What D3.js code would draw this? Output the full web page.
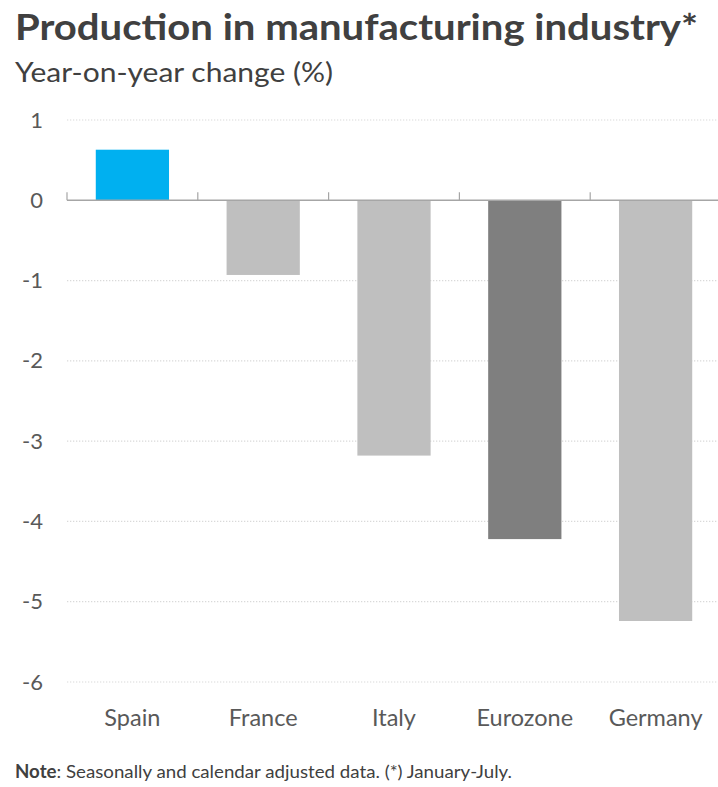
<!DOCTYPE html>
<html>
<head>
<meta charset="utf-8">
<script src="https://cdn.jsdelivr.net/npm/d3@7"></script>
<style>
  html, body { margin: 0; padding: 0; background: #ffffff; }
  svg { display: block; }
  text { font-family: Lato, "Open Sans", sans-serif; }
</style>
</head>
<body>
<svg id="chart" width="718" height="787"></svg>
<script>
// Year-on-year change (%) in manufacturing production, January-July
const categories = ["Spain", "France", "Italy", "Eurozone", "Germany"];
const values = [0.63, -0.93, -3.18, -4.22, -5.24];
const barColors = ["#00B0F0", "#BFBFBF", "#BFBFBF", "#7F7F7F", "#BFBFBF"];
const yTicks = [1, 0, -1, -2, -3, -4, -5, -6];

const svg = d3.select("#chart");
const W = 718, H = 787;
const plot = { left: 67, right: 721, top: 120, bottom: 682 };

const x = d3.scaleBand()
  .domain(categories)
  .range([plot.left, plot.right])
  .paddingInner(0.44)
  .paddingOuter(0.22);

const y = d3.scaleLinear()
  .domain([-6, 1])
  .range([plot.bottom, plot.top]);

// Title and subtitle
svg.append("text")
  .attr("x", 15).attr("y", 40)
  .attr("font-size", 37).attr("font-weight", 700)
  .attr("fill", "#404040")
  .attr("textLength", 683).attr("lengthAdjust", "spacingAndGlyphs")
  .text("Production in manufacturing industry*");

svg.append("text")
  .attr("x", 15).attr("y", 82)
  .attr("font-size", 27)
  .attr("fill", "#404040")
  .attr("textLength", 318).attr("lengthAdjust", "spacingAndGlyphs")
  .text("Year-on-year change (%)");

// Dotted horizontal gridlines (zero handled by the axis line)
svg.append("g")
  .selectAll("line")
  .data(yTicks.filter(t => t !== 0))
  .join("line")
  .attr("x1", plot.left).attr("x2", W)
  .attr("y1", d => y(d)).attr("y2", d => y(d))
  .attr("stroke", "#D9D9D9")
  .attr("stroke-width", 1.2)
  .attr("stroke-dasharray", "1.3,1.7");

// Y axis labels, plain hyphen for negatives
const yAxis = d3.axisLeft(y).tickValues(yTicks).tickSize(0).tickPadding(0)
  .tickFormat(d => String(d));
const gy = svg.append("g")
  .attr("transform", `translate(${43},0)`)
  .call(yAxis);
gy.select(".domain").remove();
gy.selectAll("text")
  .attr("font-size", 22)
  .attr("fill", "#595959")
  .attr("font-family", "Lato, 'Open Sans', sans-serif");

// Bars
svg.append("g")
  .selectAll("rect")
  .data(categories.map((c, i) => ({ c, v: values[i], col: barColors[i] })))
  .join("rect")
  .attr("x", d => x(d.c))
  .attr("width", x.bandwidth())
  .attr("y", d => y(Math.max(0, d.v)))
  .attr("height", d => Math.abs(y(d.v) - y(0)))
  .attr("fill", d => d.col);

// Zero baseline with category divider ticks
const base = svg.append("g");
base.append("line")
  .attr("x1", plot.left).attr("x2", W)
  .attr("y1", y(0)).attr("y2", y(0))
  .attr("stroke", "#A6A6A6").attr("stroke-width", 1.5);
const step = x.step();
const dividers = d3.range(categories.length).map(i => plot.left + i * step);
base.selectAll("line.div")
  .data(dividers)
  .join("line")
  .attr("class", "div")
  .attr("x1", d => d).attr("x2", d => d)
  .attr("y1", y(0) - 8).attr("y2", y(0))
  .attr("stroke", "#A6A6A6").attr("stroke-width", 1.2);

// Category labels
svg.append("g")
  .selectAll("text")
  .data(categories)
  .join("text")
  .attr("x", d => x(d) + x.bandwidth() / 2)
  .attr("y", 726)
  .attr("text-anchor", "middle")
  .attr("font-size", 23.5)
  .attr("fill", "#595959")
  .text(d => d);

// Footnote
const note = svg.append("text")
  .attr("x", 15).attr("y", 778)
  .attr("font-size", 18)
  .attr("fill", "#404040")
  .attr("textLength", 497).attr("lengthAdjust", "spacingAndGlyphs");
note.append("tspan").attr("font-weight", 700).text("Note");
note.append("tspan").text(": Seasonally and calendar adjusted data. (*) January-July.");
</script>
</body>
</html>
